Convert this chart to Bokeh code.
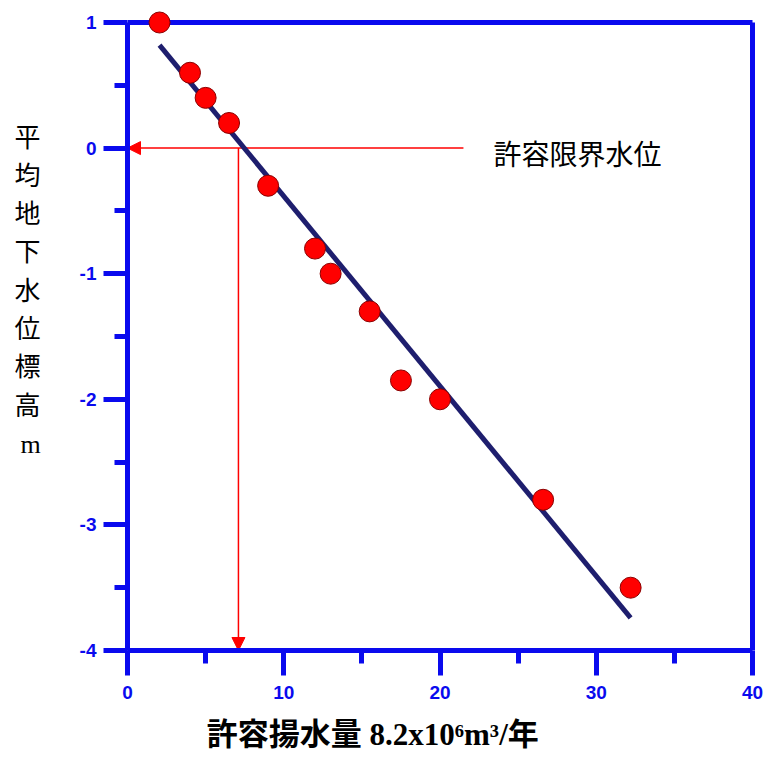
from bokeh.plotting import figure
from bokeh.models import Range1d, FixedTicker, Label, Arrow, NormalHead
from bokeh.embed import file_html
from bokeh.resources import INLINE

# ---- data ----
pump_x = [2.05, 4.0, 5.0, 6.5, 9.0, 12.0, 13.0, 15.5, 17.5, 20.0, 26.6, 32.2]
level_y = [1.0, 0.6, 0.4, 0.2, -0.3, -0.8, -1.0, -1.3, -1.85, -2.0, -2.8, -3.5]
fit_x = [2.05, 32.2]
fit_y = [0.82, -3.74]
x_ticks = [0, 10, 20, 30, 40]
x_minor = [5, 15, 25, 35]
y_ticks = [-4, -3, -2, -1, 0, 1]
y_minor = [-3.5, -2.5, -1.5, -0.5, 0.5]
y_tick_labels = {-4: "-4", -3: "-3", -2: "-2", -1: "-1", 0: "0", 1: "1"}
limit_level = 0.0
limit_arrow_start = 21.5
allowable_pumping = 7.1
y_title_chars = ["平", "均", "地", "下", "水", "位", "標", "高", "m"]
x_title = "許容揚水量 8.2x10⁶m³/年"
limit_label = "許容限界水位"

BLUE = "#0a0aee"
CJK = "Noto Sans CJK JP"
MIXED = "'Liberation Serif', 'Noto Sans CJK JP'"

W, H = 771, 760
FL, FR, FT, FB = 127, 757, 8, 650  # frame edges in canvas px
x0, x1 = x_ticks[0], x_ticks[-1]
y0, y1 = y_ticks[0], y_ticks[-1]
xpad = (x1 - x0) * 5 / 625.0      # small room right of the box
ypad = (y1 - y0) * 14 / 628.0     # small room above the box

p = figure(width=W, height=H, x_range=Range1d(x0, x1 + xpad), y_range=Range1d(y0, y1 + ypad),
           output_backend="svg", toolbar_location=None,
           min_border_left=FL, min_border_right=W - FR,
           min_border_top=FT, min_border_bottom=H - FB)
p.grid.visible = False
p.outline_line_color = None
p.background_fill_color = "white"
p.border_fill_color = "white"

for ax in (p.xaxis[0], p.yaxis[0]):
    ax.axis_line_color = BLUE
    ax.axis_line_width = 5
    ax.major_tick_line_color = BLUE
    ax.major_tick_line_width = 5
    ax.minor_tick_line_color = BLUE
    ax.minor_tick_line_width = 5
    ax.major_tick_in = 0
    ax.minor_tick_in = 0
    ax.major_label_text_color = BLUE
    ax.major_label_text_font = "Liberation Sans"
    ax.major_label_text_font_style = "bold"
    ax.major_label_text_font_size = "19px"
    ax.axis_label_text_color = "black"

xa, ya = p.xaxis[0], p.yaxis[0]
xa.ticker = FixedTicker(ticks=x_ticks, minor_ticks=x_minor)
ya.ticker = FixedTicker(ticks=y_ticks, minor_ticks=y_minor)
xa.bounds = (x0, x1)
ya.bounds = (y0, y1)
ya.major_label_overrides = y_tick_labels
xa.major_tick_out = 25
xa.minor_tick_out = 13
xa.major_label_standoff = 10
ya.major_tick_out = 24
ya.minor_tick_out = 13
ya.major_label_standoff = 7

# y title: stacked characters
ya.axis_label = "\n".join(y_title_chars) + "\n\n"
ya.axis_label_orientation = "horizontal"
ya.axis_label_text_font = MIXED
ya.axis_label_text_font_style = "normal"
ya.axis_label_text_font_size = "26px"
ya.axis_label_text_line_height = 1.32
ya.axis_label_standoff = 36

# x title (padding on the right shifts it left like the reference)
xa.axis_label = x_title + "\u3000" * 4 + "\u2002"
xa.axis_label_text_font = MIXED
xa.axis_label_text_font_style = "bold"
xa.axis_label_text_font_size = "31px"
xa.axis_label_standoff = 15

# top and right sides of the box
p.segment(x0=[x0, x1], y0=[y1, y0], x1=[x1, x1], y1=[y1, y1], line_color=BLUE, line_width=5)

# arrows (allowable limit level and allowable pumping)
h_arrow = Arrow(end=NormalHead(size=13, fill_color="red", line_color="red"),
                x_start=limit_arrow_start, y_start=limit_level, x_end=x0, y_end=limit_level,
                line_color="red", line_width=1.5, level="underlay")
v_arrow = Arrow(end=NormalHead(size=13, fill_color="red", line_color="red"),
                x_start=allowable_pumping, y_start=limit_level, x_end=allowable_pumping, y_end=y0,
                line_color="red", line_width=1.5, level="underlay")
p.add_layout(h_arrow)
p.add_layout(v_arrow)

# regression line and points
p.line(fit_x, fit_y, line_color="#1e1e6e", line_width=5)
p.scatter(pump_x, level_y, size=21, fill_color="#ff0000", line_color="#8b0000", line_width=1)

# label of limit level (screen units, relative to the frame)
p.add_layout(Label(x=493 - FL, y=FB - 152, x_units="screen", y_units="screen",
                   text=limit_label, text_font=CJK, text_font_size="28px",
                   text_color="black", text_align="left", text_baseline="middle"))

open("out.html", "w").write(file_html(p, INLINE))
